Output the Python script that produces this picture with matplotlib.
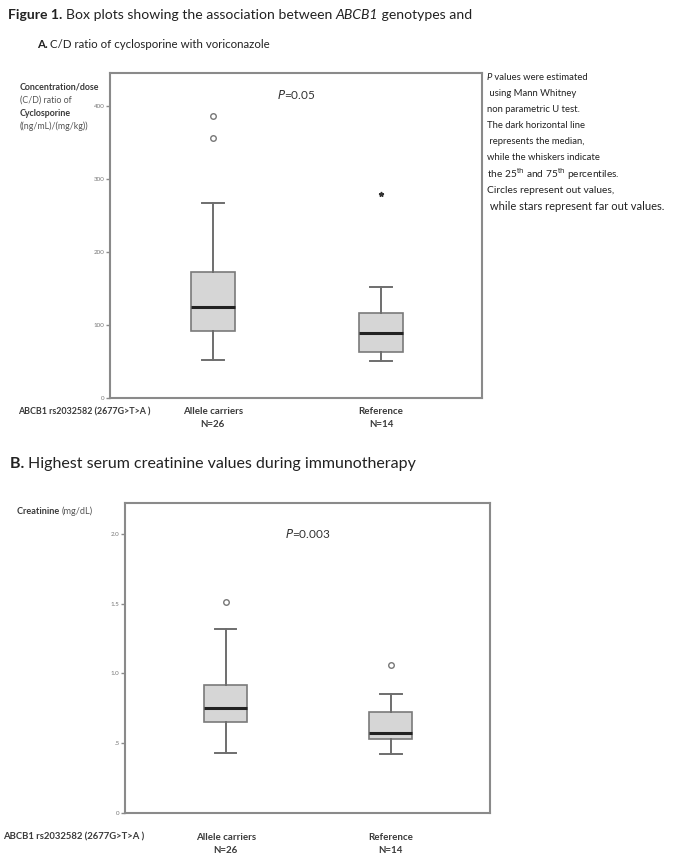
import matplotlib
matplotlib.use('Agg')
import matplotlib.pyplot as plt

plt.rcParams['font.family'] = ['Lato', 'DejaVu Sans']

W, H = 685, 858

# groups and box statistics
groups = ['Allele carriers\nN=26', 'Reference\nN=14']
snp_label = 'ABCB1 rs2032582 (2677G>T>A )'

# panel A: C/D ratio of cyclosporine
cd_whislo = [52, 51]
cd_q1 = [92, 63]
cd_med = [125, 89]
cd_q3 = [173, 116]
cd_whishi = [267, 152]
cd_out = [[356, 386], []]
cd_far = [[], [279]]
cd_ticks = [0, 100, 200, 300, 400]
cd_ticklabels = ['0', '100', '200', '300', '400']

# panel B: creatinine
cr_whislo = [0.43, 0.42]
cr_q1 = [0.65, 0.53]
cr_med = [0.75, 0.57]
cr_q3 = [0.92, 0.72]
cr_whishi = [1.32, 0.85]
cr_out = [[1.51], [1.06]]
cr_ticks = [0, 0.5, 1.0, 1.5, 2.0]
cr_ticklabels = ['0', '.5', '1.0', '1.5', '2.0']

notes = [' values were estimated', ' using Mann Whitney', 'non parametric U test.',
         'The dark horizontal line', ' represents the median,', 'while the whiskers indicate',
         'the 25$^{\\mathrm{th}}$ and 75$^{\\mathrm{th}}$ percentiles.', 'Circles represent out values,',
         ' while stars represent far out values.']
note_sizes = [6.8, 6.8, 6.8, 6.8, 6.8, 6.8, 7.3, 7.4, 8.0]

fig = plt.figure(figsize=(W / 100, H / 100), dpi=100)

GRAY = '#8a8a8a'
TXT = '#333333'


def px(x, y):
    return x / W, 1 - y / H


def add_axes_px(l, t, r, b):
    return fig.add_axes([l / W, 1 - b / H, (r - l) / W, (b - t) / H])


def seq_text(x, y, pieces, size, color='#222222'):
    # draw text pieces one after another on one line
    fig.canvas.draw()
    r = fig.canvas.get_renderer()
    cx = x
    for p in pieces:
        s, weight, style = p[:3]
        c = p[3] if len(p) > 3 else color
        t = fig.text(*px(cx, y), s, fontsize=size, fontweight=weight, fontstyle=style,
                     va='center', ha='left', color=c)
        bb = t.get_window_extent(r)
        cx += bb.width


def boxpanel(ax, whislo, q1, med, q3, whishi, outs, ymax, ticks, ticklabels, far=None):
    stats = []
    for i in range(2):
        stats.append(dict(whislo=whislo[i], q1=q1[i], med=med[i], q3=q3[i],
                          whishi=whishi[i], fliers=outs[i]))
    ax.bxp(stats, positions=[1, 2], widths=0.26, patch_artist=True,
           boxprops=dict(facecolor='#d6d6d6', edgecolor='#7a7a7a', linewidth=1.2),
           medianprops=dict(color='#222222', linewidth=2.2),
           whiskerprops=dict(color='#6e6e6e', linewidth=1.4),
           capprops=dict(color='#6e6e6e', linewidth=1.4),
           capwidths=0.13,
           flierprops=dict(marker='o', markersize=4, markerfacecolor='white',
                           markeredgecolor='#777777', markeredgewidth=1.0))
    if far:
        for i, vals in enumerate(far):
            for v in vals:
                ax.plot([i + 1], [v], marker='*', markersize=3.5, color='#333333')
    ax.set_xlim(0.39, 2.6)
    ax.set_ylim(0, ymax)
    ax.set_xticks([])
    ax.set_yticks(ticks)
    ax.set_yticklabels(ticklabels)
    ax.tick_params(axis='y', direction='out', length=3, width=1, colors=GRAY,
                   labelsize=4.5, labelcolor='#777777', pad=1)
    for sp in ax.spines.values():
        sp.set_color(GRAY)
        sp.set_linewidth(1.5)


# panel A
axA = add_axes_px(110, 73, 482, 398)
boxpanel(axA, cd_whislo, cd_q1, cd_med, cd_q3, cd_whishi, cd_out, 445,
         cd_ticks, cd_ticklabels, far=cd_far)
axA.text(0.5, 0.935, '$\\mathit{P}$=0.05', transform=axA.transAxes, ha='center',
         va='center', fontsize=8.5, color=TXT)

# panel B
axB = add_axes_px(125, 503, 490, 813)
boxpanel(axB, cr_whislo, cr_q1, cr_med, cr_q3, cr_whishi, cr_out, 2.22,
         cr_ticks, cr_ticklabels)
axB.text(0.5, 0.9, '$\\mathit{P}$=0.003', transform=axB.transAxes, ha='center',
         va='center', fontsize=8.5, color=TXT)

# category labels
for ax, ylab, fs in [(axA, 418, 7.0), (axB, 844, 7.0)]:
    for i, g in enumerate(groups):
        xd = ax.transData.transform((i + 1, 0))[0]
        fig.text(xd / W, 1 - ylab / H, g, ha='center', va='center', fontsize=fs,
                 fontweight='bold', color='#3a3a3a', linespacing=1.45)
fig.text(*px(18, 412), snp_label, ha='left', va='center', fontsize=6.4,
         fontweight='bold', color='#3a3a3a')
fig.text(*px(3, 837), snp_label, ha='left', va='center', fontsize=6.8,
         fontweight='bold', color='#3a3a3a')

# y axis labels
fig.text(*px(20, 87), 'Concentration/dose', fontsize=6.4, fontweight='bold', color='#3a3a3a', va='center')
fig.text(*px(20, 100), '(C/D) ratio of', fontsize=6.4, color='#555555', va='center')
fig.text(*px(20, 113), 'Cyclosporine', fontsize=6.4, fontweight='bold', color='#3a3a3a', va='center')
fig.text(*px(20, 126), '((ng/mL)/(mg/kg))', fontsize=6.4, color='#555555', va='center')
seq_text(17, 511, [('Creatinine ', 'bold', 'normal', '#3a3a3a'),
                   ('(mg/dL)', 'normal', 'normal', '#555555')], 6.6)

# notes on the right
for k, line in enumerate(notes):
    y = 77 + 16.2 * k
    if k == 0:
        seq_text(487, y, [('P', 'normal', 'italic'), (line, 'normal', 'normal')], note_sizes[k])
    else:
        fig.text(*px(487, y), line, fontsize=note_sizes[k], color='#222222', va='center')

# titles
seq_text(8, 15, [('Figure 1. ', 'bold', 'normal'),
                 ('Box plots showing the association between ', 'normal', 'normal'),
                 ('ABCB1', 'normal', 'italic'),
                 (' genotypes and', 'normal', 'normal')], 10.1)
seq_text(37, 45, [('A. ', 'bold', 'normal'),
                  ('C/D ratio of cyclosporine with voriconazole', 'normal', 'normal')], 8.3)
seq_text(10, 464, [('B. ', 'bold', 'normal'),
                   ('Highest serum creatinine values during immunotherapy', 'normal', 'normal')], 11.5)

fig.savefig('out.png', dpi=100)
